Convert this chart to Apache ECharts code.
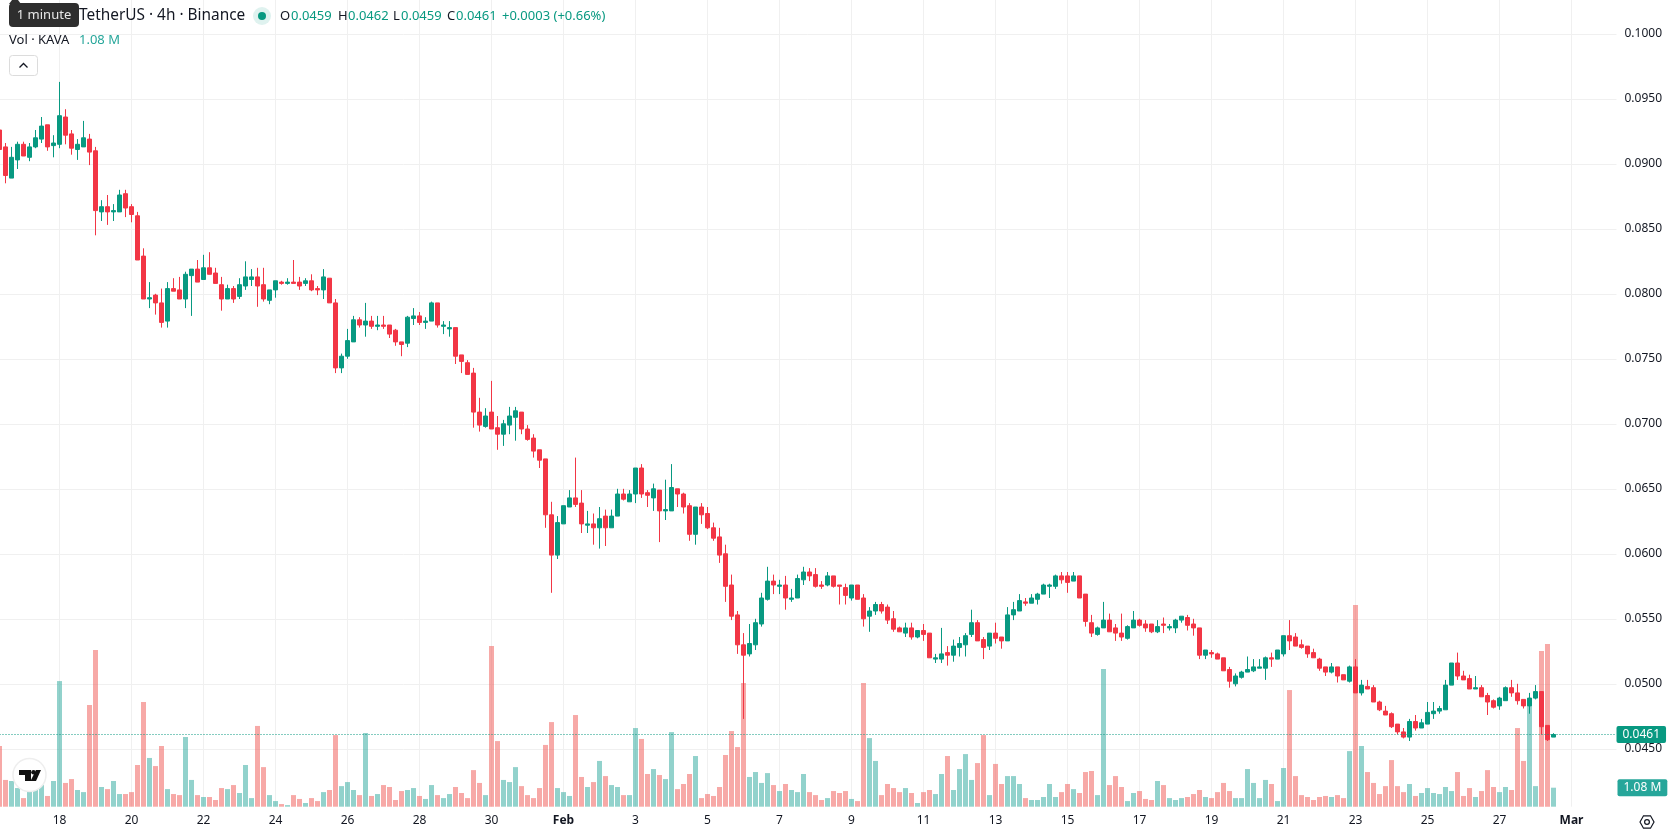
<!DOCTYPE html>
<html>
<head>
<meta charset="utf-8">
<title>KAVA / TetherUS 4h</title>
<style>
html,body{margin:0;padding:0;background:#fff;overflow:hidden}
#chart{width:1678px;height:835px}
</style>
<script src="https://cdn.jsdelivr.net/npm/echarts@6/dist/echarts.min.js"></script>
</head>
<body>
<div id="chart"></div>
<script>
// Four-hour KAVA/USDT candles, oldest first.
const opens = [
.0926,.0913,.0889,.0903,.0915,.0905,.0913,.0919,.0930,.0914,
.0915,.0936,.0923,.0911,.0913,.0919,.0910,.0863,.0867,.0863,
.0863,.0877,.0867,.0860,.0829,.0796,.0799,.0793,.0779,.0804,
.0803,.0796,.0814,.0819,.0811,.0820,.0816,.0807,.0796,.0804,
.0798,.0806,.0811,.0813,.0807,.0795,.0803,.0809,.0808,.0809,
.0809,.0808,.0810,.0804,.0803,.0812,.0793,.0743,.0752,.0763,
.0780,.0776,.0779,.0775,.0776,.0776,.0772,.0763,.0762,.0781,
.0783,.0778,.0779,.0793,.0775,.0773,.0774,.0753,.0747,.0739,
.0709,.0698,.0709,.0697,.0692,.0699,.0705,.0709,.0696,.0689,
.0680,.0673,.0630,.0599,.0623,.0636,.0643,.0639,.0622,.0623,
.0620,.0629,.0620,.0629,.0646,.0640,.0646,.0666,.0647,.0643,
.0649,.0633,.0633,.0650,.0646,.0637,.0615,.0636,.0631,.0620,
.0613,.0600,.0576,.0553,.0530,.0523,.0530,.0546,.0565,.0579,
.0575,.0576,.0565,.0566,.0580,.0586,.0584,.0576,.0576,.0583,
.0576,.0574,.0566,.0576,.0566,.0552,.0556,.0561,.0559,.0550,
.0543,.0539,.0543,.0536,.0541,.0539,.0519,.0519,.0524,.0522,
.0528,.0530,.0538,.0547,.0534,.0529,.0539,.0536,.0533,.0553,
.0556,.0563,.0562,.0565,.0569,.0575,.0575,.0583,.0583,.0579,
.0583,.0569,.0547,.0538,.0543,.0549,.0543,.0539,.0535,.0543,
.0549,.0546,.0546,.0540,.0546,.0543,.0543,.0549,.0551,.0546,
.0543,.0522,.0524,.0523,.0520,.0511,.0500,.0505,.0509,.0510,
.0512,.0512,.0520,.0519,.0523,.0537,.0536,.0530,.0529,.0524,
.0519,.0513,.0509,.0513,.0507,.0502,.0513,.0493,.0498,.0497,
.0486,.0479,.0477,.0469,.0463,.0459,.0471,.0466,.0469,.0477,
.0479,.0480,.0499,.0516,.0506,.0504,.0496,.0497,.0491,.0487,
.0483,.0487,.0497,.0493,.0488,.0483,.0489,.0494,.0468,.0459];
const highs = [
.0926,.0916,.0913,.0917,.0917,.0916,.0926,.0936,.0930,.0922,
.0963,.0942,.0926,.0919,.0933,.0923,.0913,.0872,.0876,.0869,
.0880,.0880,.0869,.0863,.0835,.0809,.0800,.0804,.0809,.0812,
.0813,.0817,.0819,.0826,.0830,.0832,.0820,.0813,.0807,.0806,
.0812,.0825,.0819,.0820,.0820,.0803,.0810,.0810,.0812,.0826,
.0813,.0812,.0815,.0806,.0819,.0812,.0796,.0754,.0773,.0783,
.0782,.0793,.0783,.0783,.0783,.0776,.0773,.0763,.0783,.0789,
.0786,.0782,.0794,.0793,.0779,.0779,.0774,.0753,.0749,.0743,
.0720,.0712,.0733,.0706,.0703,.0713,.0713,.0709,.0699,.0692,
.0680,.0673,.0640,.0629,.0637,.0649,.0674,.0649,.0633,.0631,
.0636,.0634,.0634,.0650,.0650,.0649,.0666,.0669,.0649,.0654,
.0649,.0657,.0669,.0650,.0647,.0639,.0636,.0639,.0636,.0624,
.0620,.0607,.0584,.0556,.0539,.0546,.0550,.0570,.0590,.0584,
.0580,.0583,.0573,.0584,.0590,.0589,.0589,.0579,.0586,.0583,
.0576,.0577,.0576,.0576,.0569,.0559,.0563,.0563,.0561,.0556,
.0544,.0547,.0547,.0541,.0546,.0539,.0523,.0543,.0529,.0534,
.0536,.0539,.0557,.0549,.0536,.0539,.0547,.0536,.0559,.0563,
.0569,.0566,.0569,.0570,.0577,.0577,.0584,.0586,.0586,.0586,
.0583,.0569,.0553,.0544,.0563,.0554,.0546,.0554,.0545,.0556,
.0550,.0549,.0546,.0549,.0551,.0546,.0550,.0552,.0553,.0550,
.0543,.0526,.0526,.0524,.0520,.0513,.0508,.0510,.0521,.0519,
.0519,.0521,.0524,.0526,.0537,.0549,.0539,.0534,.0529,.0527,
.0520,.0513,.0516,.0513,.0507,.0514,.0519,.0503,.0503,.0499,
.0487,.0483,.0478,.0469,.0466,.0473,.0476,.0473,.0486,.0486,
.0483,.0503,.0516,.0524,.0510,.0507,.0506,.0499,.0493,.0488,
.0490,.0498,.0503,.0500,.0488,.0493,.0499,.0494,.0468,.0462];
const lows = [
.0911,.0885,.0889,.0896,.0906,.0902,.0912,.0916,.0910,.0905,
.0912,.0915,.0907,.0903,.0913,.0899,.0845,.0856,.0853,.0856,
.0863,.0859,.0855,.0826,.0796,.0789,.0784,.0774,.0774,.0802,
.0796,.0789,.0783,.0809,.0811,.0815,.0808,.0787,.0796,.0793,
.0796,.0803,.0806,.0790,.0794,.0792,.0797,.0807,.0807,.0808,
.0803,.0806,.0802,.0799,.0796,.0793,.0739,.0739,.0750,.0763,
.0774,.0767,.0773,.0772,.0773,.0766,.0760,.0752,.0759,.0776,
.0776,.0773,.0779,.0774,.0769,.0767,.0746,.0739,.0738,.0697,
.0694,.0697,.0696,.0680,.0683,.0692,.0687,.0692,.0687,.0674,
.0666,.0620,.0570,.0596,.0623,.0636,.0636,.0616,.0616,.0607,
.0604,.0606,.0620,.0629,.0641,.0640,.0639,.0643,.0636,.0633,
.0609,.0626,.0633,.0636,.0631,.0610,.0607,.0623,.0619,.0610,
.0593,.0563,.0549,.0523,.0473,.0521,.0526,.0544,.0564,.0569,
.0569,.0557,.0563,.0566,.0576,.0579,.0574,.0573,.0575,.0574,
.0561,.0561,.0564,.0565,.0544,.0540,.0553,.0554,.0546,.0540,
.0540,.0536,.0534,.0535,.0533,.0520,.0516,.0516,.0514,.0517,
.0521,.0521,.0536,.0533,.0519,.0526,.0531,.0527,.0533,.0549,
.0556,.0560,.0562,.0561,.0569,.0566,.0573,.0577,.0570,.0579,
.0566,.0544,.0536,.0537,.0543,.0540,.0533,.0533,.0534,.0543,
.0544,.0540,.0539,.0539,.0539,.0541,.0539,.0547,.0541,.0537,
.0519,.0519,.0520,.0519,.0510,.0497,.0498,.0504,.0509,.0509,
.0512,.0503,.0513,.0519,.0521,.0526,.0529,.0527,.0520,.0520,
.0510,.0506,.0508,.0501,.0503,.0501,.0493,.0491,.0496,.0486,
.0479,.0476,.0466,.0461,.0458,.0456,.0464,.0466,.0469,.0473,
.0477,.0480,.0499,.0503,.0503,.0496,.0496,.0490,.0476,.0481,
.0480,.0487,.0490,.0484,.0481,.0477,.0488,.0461,.0456,.0459];
const closes = [
.0911,.0891,.0905,.0915,.0906,.0913,.0920,.0929,.0913,.0916,
.0937,.0922,.0912,.0915,.0920,.0909,.0864,.0867,.0863,.0864,
.0876,.0866,.0861,.0826,.0796,.0797,.0793,.0778,.0804,.0802,
.0796,.0815,.0819,.0809,.0820,.0815,.0808,.0796,.0804,.0796,
.0807,.0813,.0813,.0806,.0796,.0803,.0810,.0808,.0809,.0808,
.0806,.0810,.0803,.0803,.0813,.0793,.0743,.0752,.0764,.0780,
.0776,.0779,.0775,.0776,.0775,.0769,.0763,.0761,.0782,.0783,
.0778,.0779,.0793,.0776,.0776,.0774,.0752,.0748,.0738,.0709,
.0699,.0706,.0696,.0692,.0700,.0706,.0710,.0696,.0688,.0679,
.0672,.0630,.0599,.0624,.0637,.0643,.0638,.0623,.0623,.0620,
.0627,.0620,.0629,.0646,.0642,.0646,.0666,.0646,.0645,.0650,
.0633,.0634,.0651,.0646,.0636,.0615,.0636,.0630,.0620,.0612,
.0599,.0575,.0552,.0530,.0522,.0531,.0547,.0566,.0579,.0576,
.0576,.0566,.0566,.0581,.0586,.0583,.0575,.0575,.0583,.0575,
.0575,.0568,.0576,.0565,.0550,.0556,.0561,.0556,.0549,.0542,
.0540,.0543,.0536,.0541,.0538,.0520,.0520,.0523,.0522,.0529,
.0531,.0537,.0547,.0533,.0528,.0539,.0535,.0533,.0553,.0557,
.0564,.0562,.0566,.0569,.0576,.0576,.0583,.0580,.0578,.0583,
.0566,.0548,.0539,.0543,.0549,.0540,.0539,.0536,.0544,.0549,
.0545,.0543,.0540,.0544,.0545,.0544,.0549,.0552,.0545,.0543,
.0522,.0526,.0523,.0519,.0510,.0502,.0506,.0509,.0511,.0513,
.0513,.0520,.0519,.0526,.0537,.0533,.0529,.0528,.0523,.0520,
.0512,.0509,.0513,.0506,.0503,.0513,.0493,.0499,.0496,.0486,
.0480,.0476,.0467,.0463,.0459,.0471,.0466,.0470,.0478,.0479,
.0481,.0499,.0516,.0506,.0503,.0496,.0497,.0490,.0486,.0482,
.0489,.0497,.0493,.0487,.0483,.0489,.0494,.0467,.0457,.0461];
// Traded volume per candle, in millions of KAVA.
const volumes = [
3.45,1.52,1.46,1.06,0.49,1.00,1.00,1.23,0.61,1.46,
7.14,1.35,1.57,0.95,0.83,5.78,8.91,1.12,1.00,1.46,
0.72,0.72,0.83,2.37,5.95,2.77,2.31,3.45,1.00,0.72,
0.66,3.96,1.52,0.66,0.55,0.55,0.38,1.06,1.00,1.23,
0.78,2.37,0.49,4.59,2.25,0.66,0.32,0.15,0.09,0.66,
0.44,0.21,0.49,0.32,0.83,0.95,4.07,1.17,1.40,0.95,
0.66,4.19,0.61,0.72,1.23,1.12,0.38,0.89,0.95,1.06,
0.61,0.44,1.23,0.66,0.49,0.72,1.12,0.78,0.49,2.08,
1.35,0.66,9.13,3.73,1.52,1.40,2.25,1.17,0.66,0.49,
1.06,3.51,4.81,1.06,0.83,0.61,5.21,1.69,1.12,1.40,
2.60,1.74,1.23,1.12,0.66,0.66,4.47,3.85,1.86,2.14,
1.80,1.57,4.24,1.00,1.29,1.86,2.88,0.49,0.72,0.61,
1.12,2.94,4.30,3.39,7.03,1.69,1.97,1.35,1.91,1.23,
0.89,1.29,0.95,0.83,1.86,0.83,0.66,0.38,0.49,0.89,
0.78,0.89,0.44,0.32,7.03,3.90,2.60,0.66,1.29,1.06,
0.83,1.06,0.78,0.21,0.83,0.95,0.72,1.86,2.88,0.95,
2.14,2.99,1.52,2.48,4.07,0.66,2.43,1.29,1.74,1.74,
1.29,0.49,0.38,0.38,0.55,1.29,0.55,0.83,1.29,1.00,
0.78,1.97,2.03,0.66,7.83,1.23,1.74,1.12,0.32,0.78,
0.89,0.44,0.38,1.46,1.23,0.49,0.38,0.49,0.55,0.72,
0.95,0.55,0.49,0.83,1.35,0.89,0.49,0.49,2.14,1.35,
0.49,1.52,1.29,0.32,2.20,6.63,1.74,0.66,0.55,0.38,
0.55,0.61,0.55,0.66,0.49,3.16,11.46,3.45,1.97,1.35,
0.72,1.17,2.65,1.17,0.83,1.29,0.61,0.78,1.06,0.78,
0.72,1.12,0.89,1.97,0.61,1.06,0.55,0.89,2.08,1.12,
0.83,1.12,0.95,4.47,2.60,5.72,1.17,8.85,9.25,1.08];

// Date labels, one every twelve candles (two days), first on candle 10.
const tickLabels = ['18','20','22','24','26','28','30','Feb','3','5','7','9','11','13','15','17','19','21','23','25','27','Mar'];
const firstTick = 10, tickStep = 12, slotCount = 271;
const categories = Array.from({length: slotCount}, (_, i) =>
  (i >= firstTick && (i - firstTick) % tickStep === 0 && tickLabels[(i - firstTick) / tickStep]) || '');
const isTick = i => i >= firstTick && (i - firstTick) % tickStep === 0;

const UP = '#089981', DOWN = '#F23645', INK = '#131722', GRID = '#f0f0f0';
const FONT = '"Noto Sans", sans-serif';
const last = closes.length - 1;

const candleData = closes.map((c, i) => [opens[i], c, lows[i], highs[i]]);
const volumeData = volumes.map((v, i) => ({
  value: v,
  itemStyle: {color: closes[i] >= opens[i] ? 'rgba(38,166,154,0.5)' : 'rgba(239,83,80,0.5)'}
}));

function headerText(x, y, text, fill, size) {
  return {type: 'text', x, y, z: 100, silent: true,
    style: {text, fill, font: (size || 13) + 'px ' + FONT, textVerticalAlign: 'middle'}};
}

const chart = echarts.init(document.getElementById('chart'), null, {renderer: 'canvas'});
chart.setOption({
  animation: false,
  backgroundColor: '#fff',
  grid: [
    // price pane: 0.005 of price spans 65px, running past the canvas top
    {left: -3.5, width: 1620, top: -31.2, height: 845, outerBoundsMode: 'none'},
    // volume pane shares the baseline with the date axis
    {left: -0.5, width: 1620, top: 0, height: 806.7, outerBoundsMode: 'none'}
  ],
  xAxis: [
    {type: 'category', gridIndex: 0, data: categories.slice(0, 270), boundaryGap: true, show: false},
    {type: 'category', gridIndex: 1, data: categories, boundaryGap: false,
      axisLine: {show: false}, axisTick: {show: false},
      splitLine: {show: true, interval: i => isTick(i), lineStyle: {color: GRID, width: 1}},
      axisLabel: {
        show: true, interval: i => isTick(i), margin: 8, color: INK, fontFamily: FONT, fontSize: 12,
        formatter: v => (v === 'Feb' || v === 'Mar') ? '{b|' + v + '}' : v,
        rich: {b: {fontWeight: 'bold', fontFamily: FONT, fontSize: 12, color: INK}}
      }}
  ],
  yAxis: [
    {type: 'value', gridIndex: 0, position: 'right', min: 0.04, max: 0.105, interval: 0.005,
      axisLine: {show: false}, axisTick: {show: false},
      splitLine: {show: true, showMinLine: false, showMaxLine: false, lineStyle: {color: GRID, width: 1}},
      axisLabel: {
        margin: 8, color: INK, fontFamily: FONT, fontSize: 12,
        formatter: v => (v < 0.0449 || v > 0.1001) ? '' : v.toFixed(4)
      }},
    {type: 'value', gridIndex: 1, min: 0, max: 45.85, show: false, splitLine: {show: false}}
  ],
  series: [
    {
      type: 'bar', name: 'Vol', xAxisIndex: 1, yAxisIndex: 1, z: 2, barWidth: 5, data: volumeData,
      markLine: {
        silent: true, symbol: ['none', 'none'], z: 6, animation: false, precision: 2,
        lineStyle: {color: 'rgba(0,0,0,0)', width: 1},
        data: [{yAxis: volumes[last]}],
        label: {
          position: 'end', distance: -2, formatter: volumes[last].toFixed(2) + ' M', color: '#fff',
          backgroundColor: '#26a69a', padding: [2, 6, 2, 6], borderRadius: 2,
          fontFamily: FONT, fontSize: 12, lineHeight: 13
        }
      }
    },
    {
      type: 'candlestick', name: 'KAVA/USDT', xAxisIndex: 0, yAxisIndex: 0, z: 3, barWidth: 4,
      data: candleData,
      itemStyle: {color: UP, color0: DOWN, borderColor: UP, borderColor0: DOWN, borderWidth: 1},
      markLine: {
        silent: true, symbol: ['none', 'none'], z: 6, animation: false, precision: 4,
        lineStyle: {color: UP, type: [1, 2], width: 1},
        data: [{yAxis: closes[last]}],
        label: {
          position: 'end', distance: 0, formatter: closes[last].toFixed(4), color: '#fff',
          backgroundColor: UP, padding: [2, 6, 2, 6], borderRadius: 2,
          fontFamily: FONT, fontSize: 12, lineHeight: 13
        }
      }
    }
  ],
  graphic: [
    // symbol header
    headerText(79, 16, 'TetherUS · 4h · Binance', INK, 15.4),
    {type: 'circle', z: 100, silent: true, shape: {cx: 262, cy: 16, r: 9}, style: {fill: 'rgba(8,153,129,0.13)'}},
    {type: 'circle', z: 100, silent: true, shape: {cx: 262, cy: 16, r: 4}, style: {fill: UP}},
    headerText(280, 16, 'O', INK), headerText(291, 16, opens[last].toFixed(4), UP),
    headerText(338, 16, 'H', INK), headerText(348, 16, highs[last].toFixed(4), UP),
    headerText(393, 16, 'L', INK), headerText(401, 16, lows[last].toFixed(4), UP),
    headerText(447, 16, 'C', INK), headerText(456, 16, closes[last].toFixed(4), UP),
    headerText(502, 16, '+0.0003 (+0.66%)', UP),
    headerText(9, 40.7, 'Vol · KAVA', INK),
    headerText(79, 40.7, volumes[last].toFixed(2) + ' M', '#26a69a'),
    // collapse button
    {type: 'rect', z: 100, silent: true, shape: {x: 9.5, y: 55.5, width: 28, height: 20, r: 3},
      style: {fill: '#fff', stroke: '#dcdcdc', lineWidth: 1}},
    {type: 'polyline', z: 101, silent: true, shape: {points: [[19.5, 67.5], [23.5, 63.5], [27.5, 67.5]]},
      style: {stroke: INK, lineWidth: 1.3, fill: null}},
    // tooltip over the symbol name
    {type: 'polygon', z: 110, silent: true, shape: {points: [[9, 4], [12, 0], [18, 0], [21, 4]]}, style: {fill: '#2e2e2e'}},
    {type: 'rect', z: 110, silent: true, shape: {x: 9, y: 3, width: 70, height: 24, r: 4}, style: {fill: '#2e2e2e'}},
    {type: 'text', z: 111, silent: true, x: 44, y: 15.5,
      style: {text: '1 minute', fill: '#e8e8e8', font: '13px ' + FONT, textAlign: 'center', textVerticalAlign: 'middle'}},
    // badge in the lower left corner
    {type: 'circle', z: 100, silent: true, shape: {cx: 29.5, cy: 775, r: 16.5},
      style: {fill: '#fff', stroke: '#eeeeee', lineWidth: 1.5}},
    {type: 'polygon', z: 101, silent: true, shape: {points: [[19, 770], [31, 770], [31, 781], [25, 781], [25, 775], [19, 775]]}, style: {fill: '#111'}},
    {type: 'circle', z: 101, silent: true, shape: {cx: 33.5, cy: 772.2, r: 2.3}, style: {fill: '#111'}},
    {type: 'polygon', z: 101, silent: true, shape: {points: [[36, 770], [41, 770], [36, 781], [30.5, 781]]}, style: {fill: '#111'}},
    // settings cog in the lower right corner
    {type: 'polygon', z: 100, silent: true,
      shape: {points: [[1640, 822], [1643.5, 815.8], [1650.5, 815.8], [1654, 822], [1650.5, 828.2], [1643.5, 828.2]]},
      style: {fill: 'none', stroke: INK, lineWidth: 1.2}},
    {type: 'circle', z: 100, silent: true, shape: {cx: 1647, cy: 822, r: 2.4},
      style: {fill: 'none', stroke: INK, lineWidth: 1.2}}
  ]
});
</script>
</body>
</html>
